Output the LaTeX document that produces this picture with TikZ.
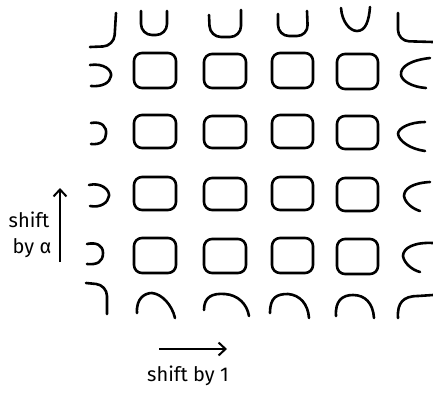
\documentclass[tikz,border=0pt]{standalone}
\usepackage{fontspec}
\setmainfont{Fira Sans}
\usetikzlibrary{arrows.meta}
\begin{document}
\begin{tikzpicture}[x=1pt,y=-1pt,
  ink/.style={line width=2.6pt,line cap=round,line join=round},
  sq/.style={ink,rounded corners=8pt},
  part/.style={ink,rounded corners=11pt},
  lbl/.style={font=\fontsize{20}{22}\selectfont,inner sep=0pt},
  arr/.style={line width=2pt,-{Straight Barb[length=7pt,width=13pt,line width=2pt]}}]
\useasboundingbox (0,0) rectangle (433,394);
% top row
\draw[part] (116,13) -- (114,46) -- (90,47);
\draw[part] (141,11) -- (141,35) -- (167,35) -- (167,11);
\draw[part] (209,15) -- (210,37) -- (241,37) -- (241,10);
\draw[part] (278,14) -- (278,36) -- (308,36) -- (307,11);
\draw[ink] (341,8) .. controls (342,22) and (350,31) .. (357,31) .. controls (366,31) and (369,20) .. (370,7);
\draw[part] (398,13) -- (398,41) -- (433,42);
% middle rows: squares and partial shapes
\foreach \y/\h in {53/35,115/33,177/33,238/35}{
  \draw[sq] (134,\y) rectangle (176,\y+\h);
  \draw[sq] (204,\y+1) rectangle (246,\y+\h);
  \draw[sq] (272,\y) rectangle (313,\y+\h);
  \draw[sq] (337,\y+1) rectangle (378,\y+\h+1);
}
\draw[ink] (90,65) .. controls (104,63) and (112,70) .. (111,76) .. controls (110,83) and (102,87) .. (91,86);
\draw[ink] (91,123) .. controls (102,121) and (107,127) .. (106,134) .. controls (106,141) and (100,145) .. (91,144);
\draw[ink] (89,185) .. controls (101,182) and (110,190) .. (109,196) .. controls (108,203) and (100,208) .. (90,206);
\draw[ink] (87,244) .. controls (96,242) and (103,245) .. (103,253) .. controls (103,262) and (97,265) .. (87,264);
\draw[ink] (430,58) .. controls (412,60) and (400,66) .. (401,75) .. controls (402,81) and (412,87) .. (426,88);
\draw[ink] (425,122) .. controls (410,122) and (398,128) .. (398,134) .. controls (399,141) and (410,149) .. (425,151);
\draw[ink] (430,182) .. controls (412,183) and (404,189) .. (404,196) .. controls (405,203) and (413,209) .. (420,211);
\draw[ink] (433,243) .. controls (414,242) and (403,248) .. (403,256) .. controls (404,263) and (412,270) .. (420,272);
% bottom row
\draw[part] (86,283) -- (107,285) -- (107,314);
\draw[ink] (137,313) .. controls (136,298) and (145,293) .. (152,293) .. controls (162,294) and (172,305) .. (175,318);
\draw[ink] (204,310) .. controls (204,297) and (212,293) .. (225,294) .. controls (238,295) and (247,304) .. (249,316);
\draw[ink] (270,313) .. controls (270,297) and (277,294) .. (288,294) .. controls (300,295) and (308,304) .. (309,318);
\draw[ink] (336,316) .. controls (335,301) and (342,295) .. (353,295) .. controls (365,295) and (373,303) .. (374,318);
\draw[ink] (398,318) .. controls (397,303) and (403,296) .. (418,296) -- (433,295);
% arrows and labels
\coordinate (ua) at (60,262);
\coordinate (ub) at (60,188);
\draw[arr] (ua) -- (ub);
\node[lbl,anchor=base] (s1) at (29,227) {shift};
\node[lbl,anchor=base] (s2) at (32,253) {by α};
\coordinate (ra) at (159,349);
\coordinate (rb) at (227,349);
\draw[arr] (ra) -- (rb);
\node[lbl,anchor=base] (s3) at (188,381) {shift by 1};
\end{tikzpicture}
\end{document}
